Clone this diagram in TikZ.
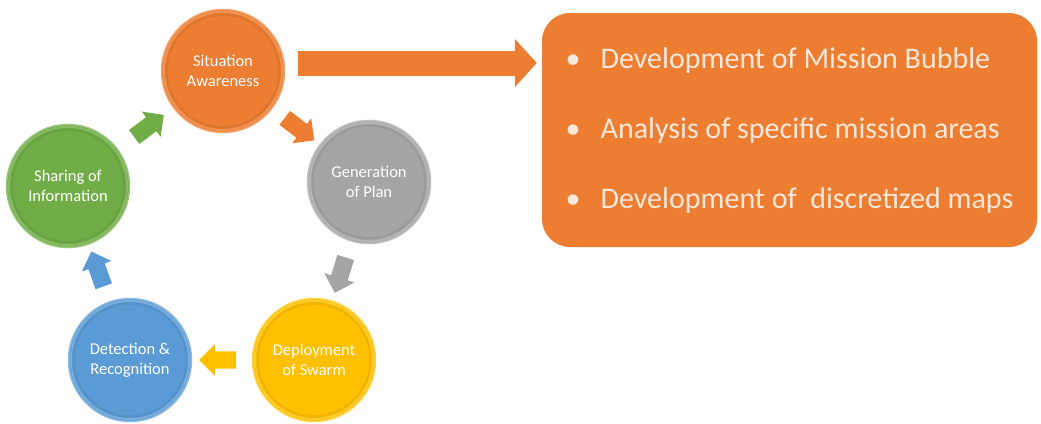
\documentclass[tikz,border=0pt]{standalone}
\usepackage{fontspec}
\setmainfont{Carlito}
\usepackage{tikz}
\usetikzlibrary{shapes.arrows,arrows.meta}

\definecolor{sitorange}{HTML}{ED7D31}
\definecolor{plangray}{HTML}{A5A5A5}
\definecolor{swarmyellow}{HTML}{FFC000}
\definecolor{detblue}{HTML}{5B9BD5}
\definecolor{sharegreen}{HTML}{70AD47}
\definecolor{cream}{HTML}{FBE8DA}

\tikzset{
	bubble/.style={circle,minimum size=123pt,inner sep=0pt,fill=#1,draw=#1!70!white,line width=1.5pt,text=white,align=center,font=\fontsize{16.5}{20}\selectfont,
		path picture={
			\draw[#1!82!white,line width=2pt] (path picture bounding box.center) circle (59pt);
			\draw[#1!94!black,line width=2.5pt] (path picture bounding box.center) circle (56.5pt);}},
	cyclearrow/.style={single arrow,fill=#1,minimum height=37pt,inner xsep=0pt,inner ysep=8.5pt,single arrow head extend=7pt,sloped,allow upside down},
	infobox/.style={fill=sitorange,rounded corners=28pt,minimum width=495pt,minimum height=234pt,text=cream,align=left,font=\fontsize{30}{70}\selectfont}
}
\newcommand{\bulletitem}{\makebox[35pt][l]{\textbullet}}

\begin{document}
\begin{tikzpicture}[x=1pt,y=-1pt]
	\useasboundingbox (0,0) rectangle (1041,423);
	\node[bubble=sitorange] (sa) at (223,71) {Situation\\Awareness};
	\node[bubble=plangray] (gp) at (369,182) {Generation\\of Plan};
	\node[bubble=swarmyellow] (ds) at (314,360) {Deployment\\of Swarm};
	\node[bubble=detblue] (dr) at (130,360) {Detection \&\\Recognition};
	\node[bubble=sharegreen] (si) at (68,186) {Sharing of\\Information};
	\node[infobox] (info) at (789.5,130) {
		\bulletitem Development of Mission Bubble\\
		\bulletitem Analysis of specific mission areas\\
		\bulletitem Development of~ discretized maps};
	\path[every edge/.style={}]
	(sa) edge node[cyclearrow=sitorange] {} (gp)
	(gp) edge node[cyclearrow=plangray] {} (ds)
	(ds) edge node[cyclearrow=swarmyellow] {} (dr)
	(dr) edge node[cyclearrow=detblue] {} (si)
	(si) edge node[cyclearrow=sharegreen] {} (sa);
	\draw[sitorange,line width=25pt,-{Triangle[length=22pt,width=47pt]},shorten <=13pt,shorten >=5pt]
	([yshift=8pt]sa.east) -- ([yshift=8pt]sa.east -| info.west);
\end{tikzpicture}
\end{document}
